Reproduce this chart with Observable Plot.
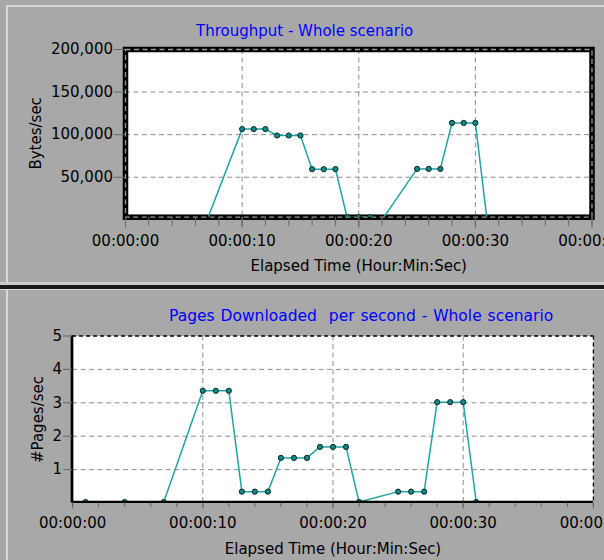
<!DOCTYPE html>
<html>
<head>
<meta charset="utf-8">
<script src="https://cdn.jsdelivr.net/npm/d3@7"></script>
<script src="https://cdn.jsdelivr.net/npm/@observablehq/plot@0.6"></script>
<style>
  html, body { margin: 0; padding: 0; }
  body { width: 604px; height: 560px; background: #a8a8a8; position: relative; overflow: hidden; font-family: "DejaVu Sans", sans-serif; }
  .deco { position: absolute; }
  .title { position: absolute; color: #0000ff; font-size: 15px; line-height: 15px; white-space: pre; }
  #c1 { position: absolute; left: 0; top: 0; }
  #c2 { position: absolute; left: 0; top: 290px; }
</style>
</head>
<body>
<div class="deco" style="left:6px;top:5px;width:598px;height:1.5px;background:#d8d8d8"></div>
<div class="deco" style="left:6px;top:5px;width:1.5px;height:277px;background:#d8d8d8"></div>
<div class="deco" style="left:0;top:282px;width:604px;height:3px;background:#cccccc"></div>
<div class="deco" style="left:0;top:285px;width:604px;height:3.5px;background:#1a1a1a"></div>
<div class="deco" style="left:0;top:288.5px;width:604px;height:1.5px;background:#dcdcdc"></div>
<div class="deco" style="left:6px;top:290px;width:1.5px;height:270px;background:#d8d8d8"></div>

<div class="title" style="left:196px;top:24px">Throughput - Whole scenario</div>
<div class="title" style="left:169px;top:309px;font-size:15.5px;word-spacing:1px">Pages Downloaded  per second - Whole scenario</div>

<div id="c1"></div>
<div id="c2"></div>

<script>
// ---- data ----
const seconds = [1, 4, 7, 10, 11, 12, 13, 14, 15, 16, 17, 18, 19, 20, 21, 22, 25, 26, 27, 28, 29, 30, 31];
const throughput = [0, 0, 0, 106500, 106500, 106500, 99000, 99000, 99000, 59500, 59500, 59500, 3000, 3000, 3000, 0, 59800, 59800, 59800, 113800, 113800, 113800, 0];
const pagesPerSec = [0.03, 0.03, 0.03, 3.36, 3.36, 3.36, 0.34, 0.34, 0.34, 1.35, 1.35, 1.35, 1.68, 1.68, 1.68, 0.03, 0.34, 0.34, 0.34, 3.02, 3.02, 3.02, 0.03];

const xTicks = [0, 10, 20, 30, 40];
const xTickLabels = ["00:00:00", "00:00:10", "00:00:20", "00:00:30", "00:00:40"];
const xMinorTicks = [0, 2, 4, 6, 8, 10, 12, 14, 16, 18, 20, 22, 24, 26, 28, 30, 32, 34, 36, 38, 40];
const xGrid = [10, 20, 30];

const bytesTicks = [50000, 100000, 150000, 200000];
const bytesTickLabels = ["50,000", "100,000", "150,000", "200,000"];
const bytesGrid = [50000, 100000, 150000];

const pagesTicks = [1, 2, 3, 4, 5];
const pagesTickLabels = ["1", "2", "3", "4", "5"];
const pagesGrid = [1, 2, 3, 4];

const xTitle = "Elapsed Time (Hour:Min:Sec)";
const bytesTitle = "Bytes/sec";
const pagesTitle = "#Pages/sec";

// ---- build tables ----
const rows1 = seconds.map((t, i) => ({t, v: throughput[i]}));
const rows2 = seconds.map((t, i) => ({t, v: pagesPerSec[i]}));

const teal = "#22a3a3", dotFill = "#0f8a8a", dotStroke = "#0a2626";
const grid = {stroke: "#8c8c8c", strokeOpacity: 1, strokeDasharray: "5,3.5", strokeWidth: 1};
const baseStyle = {background: "transparent", fontFamily: "DejaVu Sans, sans-serif", fontSize: "15px", color: "black", overflow: "hidden"};
const fmtX = d => xTickLabels[xTicks.indexOf(d)];

const chart1 = Plot.plot({
  width: 604, height: 285,
  marginLeft: 125, marginRight: 12.5, marginTop: 49, marginBottom: 68.3,
  x: {domain: [0, 40]},
  y: {domain: [0, 200000], range: [219.3, 49]},
  style: baseStyle,
  marks: [
    Plot.frame({fill: "white", stroke: "none"}),
    Plot.gridX(xGrid, grid),
    Plot.gridY(bytesGrid, grid),
    Plot.frame({stroke: "black", strokeWidth: 5.5}),
    Plot.frame({stroke: "#9a9a9a", strokeWidth: 1.3, strokeDasharray: "5,3.5"}),
    Plot.line(rows1, {x: "t", y: "v", stroke: teal, strokeWidth: 1.5, clip: true}),
    Plot.dot(rows1, {x: "t", y: "v", r: 2.6, fill: dotFill, stroke: dotStroke, strokeWidth: 1, clip: true}),
    Plot.axisY(bytesTicks, {tickSize: 11, tickPadding: 1.5, tickFormat: d => bytesTickLabels[bytesTicks.indexOf(d)], stroke: "#666", fill: "black", label: null}),
    Plot.axisX(xMinorTicks, {tickSize: 9, tickFormat: () => "", stroke: "#666", label: null}),
    Plot.axisX(xTicks, {tickSize: 11, tickPadding: 7.5, tickFormat: fmtX, stroke: "#666", fill: "black", label: null}),
    Plot.text([xTitle], {text: d => d, frameAnchor: "bottom", textAnchor: "middle", lineAnchor: "bottom", dy: 53.6, fill: "black"}),
    Plot.text([bytesTitle], {text: d => d, frameAnchor: "left", textAnchor: "middle", lineAnchor: "middle", rotate: -90, dx: -89, fill: "black"})
  ]
});
document.getElementById("c1").appendChild(chart1);

const chart2 = Plot.plot({
  width: 604, height: 270,
  marginLeft: 72.1, marginRight: 11.1, marginTop: 45.5, marginBottom: 57.5,
  x: {domain: [0, 40]},
  y: {domain: [0, 5]},
  style: baseStyle,
  marks: [
    Plot.frame({fill: "white", stroke: "none"}),
    Plot.gridX(xGrid, grid),
    Plot.gridY(pagesGrid, grid),
    Plot.ruleY([5], {stroke: "black", strokeDasharray: "4,3", strokeWidth: 1.3}),
    Plot.ruleX([40], {stroke: "black", strokeDasharray: "4,3", strokeWidth: 1.3}),
    Plot.line(rows2, {x: "t", y: "v", stroke: teal, strokeWidth: 1.5, clip: true}),
    Plot.dot(rows2, {x: "t", y: "v", r: 2.6, fill: dotFill, stroke: dotStroke, strokeWidth: 1, clip: true}),
    Plot.ruleX([0], {stroke: "black", strokeWidth: 2.7, dx: -0.6}),
    Plot.ruleY([0], {stroke: "black", strokeWidth: 2.3, dy: -1.2}),
    Plot.axisY(pagesTicks, {tickSize: 9, tickPadding: 1.5, tickFormat: d => pagesTickLabels[pagesTicks.indexOf(d)], stroke: "#666", fill: "black", label: null}),
    Plot.axisX(xMinorTicks, {tickSize: 4.5, tickFormat: () => "", stroke: "#666", label: null}),
    Plot.axisX(xTicks, {tickSize: 6, tickPadding: 8.2, tickFormat: fmtX, stroke: "#666", fill: "black", label: null}),
    Plot.text([xTitle], {text: d => d, frameAnchor: "bottom", textAnchor: "middle", lineAnchor: "bottom", dy: 50.5, fill: "black"}),
    Plot.text([pagesTitle], {text: d => d, frameAnchor: "left", textAnchor: "middle", lineAnchor: "middle", rotate: -90, dx: -34.5, fill: "black"})
  ]
});
document.getElementById("c2").appendChild(chart2);
</script>
</body>
</html>
